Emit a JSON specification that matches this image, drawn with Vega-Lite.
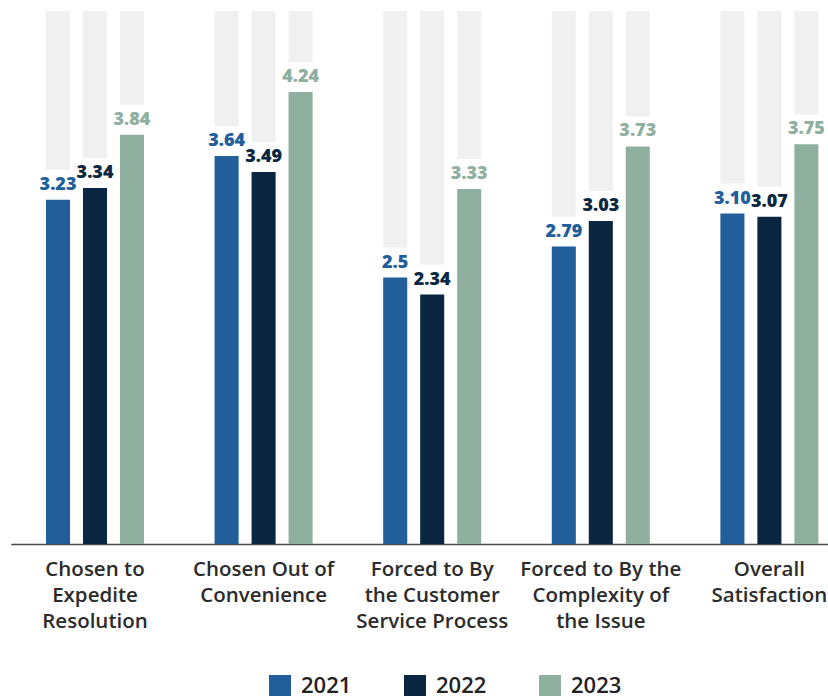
{
  "$schema": "https://vega.github.io/schema/vega-lite/v6.json",
  "width": 821,
  "height": 533,
  "autosize": "none",
  "padding": {"left": 7, "top": 11, "right": 0, "bottom": 152},
  "background": "white",
  "config": {"view": {"stroke": null}, "font": "Open Sans"},
  "data": {
    "values": [
      {"category": "Chosen to Expedite Resolution", "year": "2021", "value": 3.23, "label": "3.23"},
      {"category": "Chosen to Expedite Resolution", "year": "2022", "value": 3.34, "label": "3.34"},
      {"category": "Chosen to Expedite Resolution", "year": "2023", "value": 3.84, "label": "3.84"},
      {"category": "Chosen Out of Convenience", "year": "2021", "value": 3.64, "label": "3.64"},
      {"category": "Chosen Out of Convenience", "year": "2022", "value": 3.49, "label": "3.49"},
      {"category": "Chosen Out of Convenience", "year": "2023", "value": 4.24, "label": "4.24"},
      {"category": "Forced to By the Customer Service Process", "year": "2021", "value": 2.5, "label": "2.5"},
      {"category": "Forced to By the Customer Service Process", "year": "2022", "value": 2.34, "label": "2.34"},
      {"category": "Forced to By the Customer Service Process", "year": "2023", "value": 3.33, "label": "3.33"},
      {"category": "Forced to By the Complexity of the Issue", "year": "2021", "value": 2.79, "label": "2.79"},
      {"category": "Forced to By the Complexity of the Issue", "year": "2022", "value": 3.03, "label": "3.03"},
      {"category": "Forced to By the Complexity of the Issue", "year": "2023", "value": 3.73, "label": "3.73"},
      {"category": "Overall Satisfaction", "year": "2021", "value": 3.10, "label": "3.10"},
      {"category": "Overall Satisfaction", "year": "2022", "value": 3.07, "label": "3.07"},
      {"category": "Overall Satisfaction", "year": "2023", "value": 3.75, "label": "3.75"}
    ]
  },
  "encoding": {
    "x": {
      "field": "category",
      "type": "nominal",
      "sort": null,
      "scale": {"range": [3.7, 846.7], "paddingInner": 0, "paddingOuter": 0},
      "axis": {
        "title": null,
        "domain": true,
        "domainColor": "#4a4a4a",
        "domainWidth": 1.5,
        "ticks": false,
        "grid": false,
        "labelAngle": 0,
        "labelFont": "Open Sans",
        "labelFontSize": 20.5,
        "labelFontWeight": 600,
        "labelColor": "#2b2b2b",
        "labelPadding": 15,
        "labelLineHeight": 26,
        "labelOverlap": false,
        "labelBound": false,
        "labelLimit": 0,
        "labelExpr": "datum.value == 'Chosen to Expedite Resolution' ? ['Chosen to','Expedite','Resolution'] : datum.value == 'Chosen Out of Convenience' ? ['Chosen Out of','Convenience'] : datum.value == 'Forced to By the Customer Service Process' ? ['Forced to By','the Customer','Service Process'] : datum.value == 'Forced to By the Complexity of the Issue' ? ['Forced to By the','Complexity of','the Issue'] : ['Overall','Satisfaction']"
      }
    },
    "xOffset": {
      "field": "year",
      "type": "nominal",
      "scale": {"paddingInner": 0.35, "paddingOuter": 0.954}
    },
    "y": {
      "field": "value",
      "type": "quantitative",
      "stack": null,
      "scale": {"domain": [0, 5], "nice": false, "zero": true},
      "axis": null
    }
  },
  "layer": [
    {
      "mark": {"type": "bar", "color": "#f0f0f0", "yOffset": -30},
      "encoding": {"y2": {"datum": 5}}
    },
    {
      "mark": {"type": "bar"},
      "encoding": {
        "color": {
          "field": "year",
          "type": "nominal",
          "scale": {"domain": ["2021", "2022", "2023"], "range": ["#215e9a", "#0a2640", "#8faf9f"]},
          "legend": {
            "orient": "none",
            "legendX": 262,
            "legendY": 664,
            "direction": "horizontal",
            "title": null,
            "symbolType": "square",
            "symbolSize": 484,
            "symbolStrokeWidth": 0,
            "symbolOpacity": 1,
            "labelFont": "Open Sans",
            "labelFontSize": 22,
            "labelFontWeight": 600,
            "labelColor": "#222222",
            "labelOffset": 10,
            "columnPadding": 52
          }
        }
      }
    },
    {
      "mark": {"type": "text", "dy": -10, "baseline": "alphabetic", "fontSize": 18, "fontWeight": 800, "font": "Open Sans"},
      "encoding": {
        "text": {"field": "label"},
        "color": {"field": "year", "type": "nominal", "legend": null}
      }
    }
  ]
}
